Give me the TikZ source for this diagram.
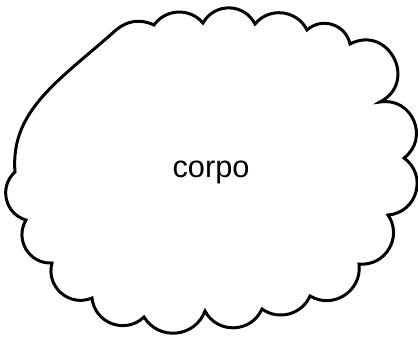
\documentclass[tikz,border=0pt]{standalone}
\usepackage{fontspec}
\setmainfont{Liberation Sans}
\usetikzlibrary{topaths}
\tikzset{
    cloud line/.style={
        line width=1.7pt,
        black,
        miter limit=6
    },
    bump/.code={
        \pgfmathsetmacro\bumploose{(2/3)*tan(#1/2)/sin(#1)/0.3915}
        \tikzset{bend left=#1, looseness/.expanded=\bumploose}
    },
    cloud text/.style={
        font=\fontsize{17.5}{21}\selectfont,
        inner sep=0pt,
        anchor=base
    }
}
\begin{document}
\begin{tikzpicture}[x=0.02cm, y=0.02cm]
    \useasboundingbox (0,0) rectangle (418,-337);
    \draw [cloud line] (15,-172) .. controls (10,-110) and (60,-80) .. (116,-30) to[out=40, in=155] (154,-25) to[bump=52] (203,-23) to[bump=62] (255,-24) to[bump=57] (307,-30) to[bump=60] (350,-44) to[bump=90] (380,-102) to[bump=76] (404,-158) to[bump=70] (388,-215) to[bump=65] (359,-264) to[bump=64] (310,-296) to[bump=51] (262,-309) to[bump=64] (205,-311) to[bump=64] (144,-317) to[bump=64] (92,-298) to[bump=64] (52,-263) to[bump=62] (26,-220) to[bump=61] (15,-172) -- cycle;
    \node [cloud text] (corpo) at (211,-177) {corpo};
\end{tikzpicture}
\end{document}
